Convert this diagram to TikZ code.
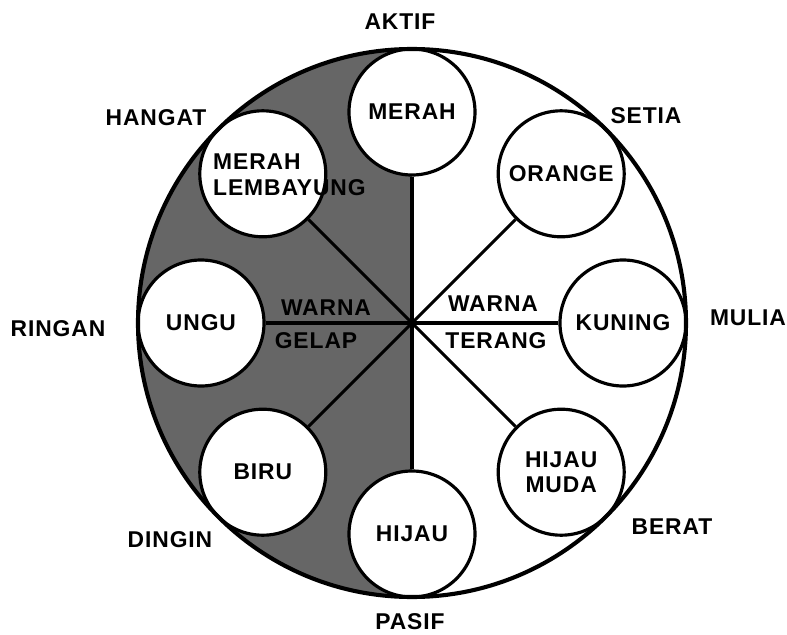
\documentclass[tikz,border=0pt]{standalone}
\usepackage{fontspec}
\setmainfont{Liberation Sans}[LetterSpace=4]
\usetikzlibrary{positioning}
\definecolor{gelapgray}{gray}{0.4}

\begin{document}
\begin{tikzpicture}[x=0.3mm,y=0.3mm,
    font=\fontsize{19.5}{22}\selectfont\bfseries,
    warnabox/.style={circle,draw=black,line width=2.7pt,fill=white,
      minimum size=37.8mm,inner sep=0pt,align=center},
    spoke/.style={line width=2.7pt},
    sifat/.style={inner sep=0pt}]
  \useasboundingbox (-412,-312) rectangle (375,323);
  \coordinate (pusat) at (0,0);
  % belahan warna gelap
  \fill[gelapgray] (0,274) arc[start angle=90,end angle=270,radius=274] -- cycle;
  \foreach \a/\nama/\teks in {90/merah/MERAH, 45/orange/ORANGE, 0/kuning/KUNING,
      -45/hijaumuda/{HIJAU\\MUDA}, -90/hijau/HIJAU, -135/biru/BIRU,
      180/ungu/UNGU, 135/lembayung/{}}{
    \node[warnabox] (\nama) at (\a:211) {\teks};
  }
  \draw[line width=3.5pt] (pusat) circle[radius=274];
  % jari-jari
  \draw[spoke] (merah) -- (hijau);
  \foreach \nama in {lembayung,ungu,biru,orange,kuning,hijaumuda}
    \draw[spoke] (pusat) -- (\nama);
  \node[anchor=west,align=left,inner sep=0pt] (lembayungteks) at (-199,148) {MERAH\\LEMBAYUNG};
  \node[sifat] (warnagelap) at (-86,15) {WARNA};
  \node[sifat] (gelap) at (-96,-18) {GELAP};
  \node[sifat] (warnaterang) at (81,19) {WARNA};
  \node[sifat] (terang) at (84,-18) {TERANG};
  % sifat warna
  \node[sifat] (aktif) at (-12,301) {AKTIF};
  \node[sifat] (hangat) at (-256,205) {HANGAT};
  \node[sifat] (setia) at (234,207) {SETIA};
  \node[sifat] (ringan) at (-354,-6) {RINGAN};
  \node[sifat] (mulia) at (336,5) {MULIA};
  \node[sifat] (dingin) at (-242,-217) {DINGIN};
  \node[sifat] (berat) at (260,-204) {BERAT};
  \node[sifat] (pasif) at (-2,-299) {PASIF};
\end{tikzpicture}
\end{document}
